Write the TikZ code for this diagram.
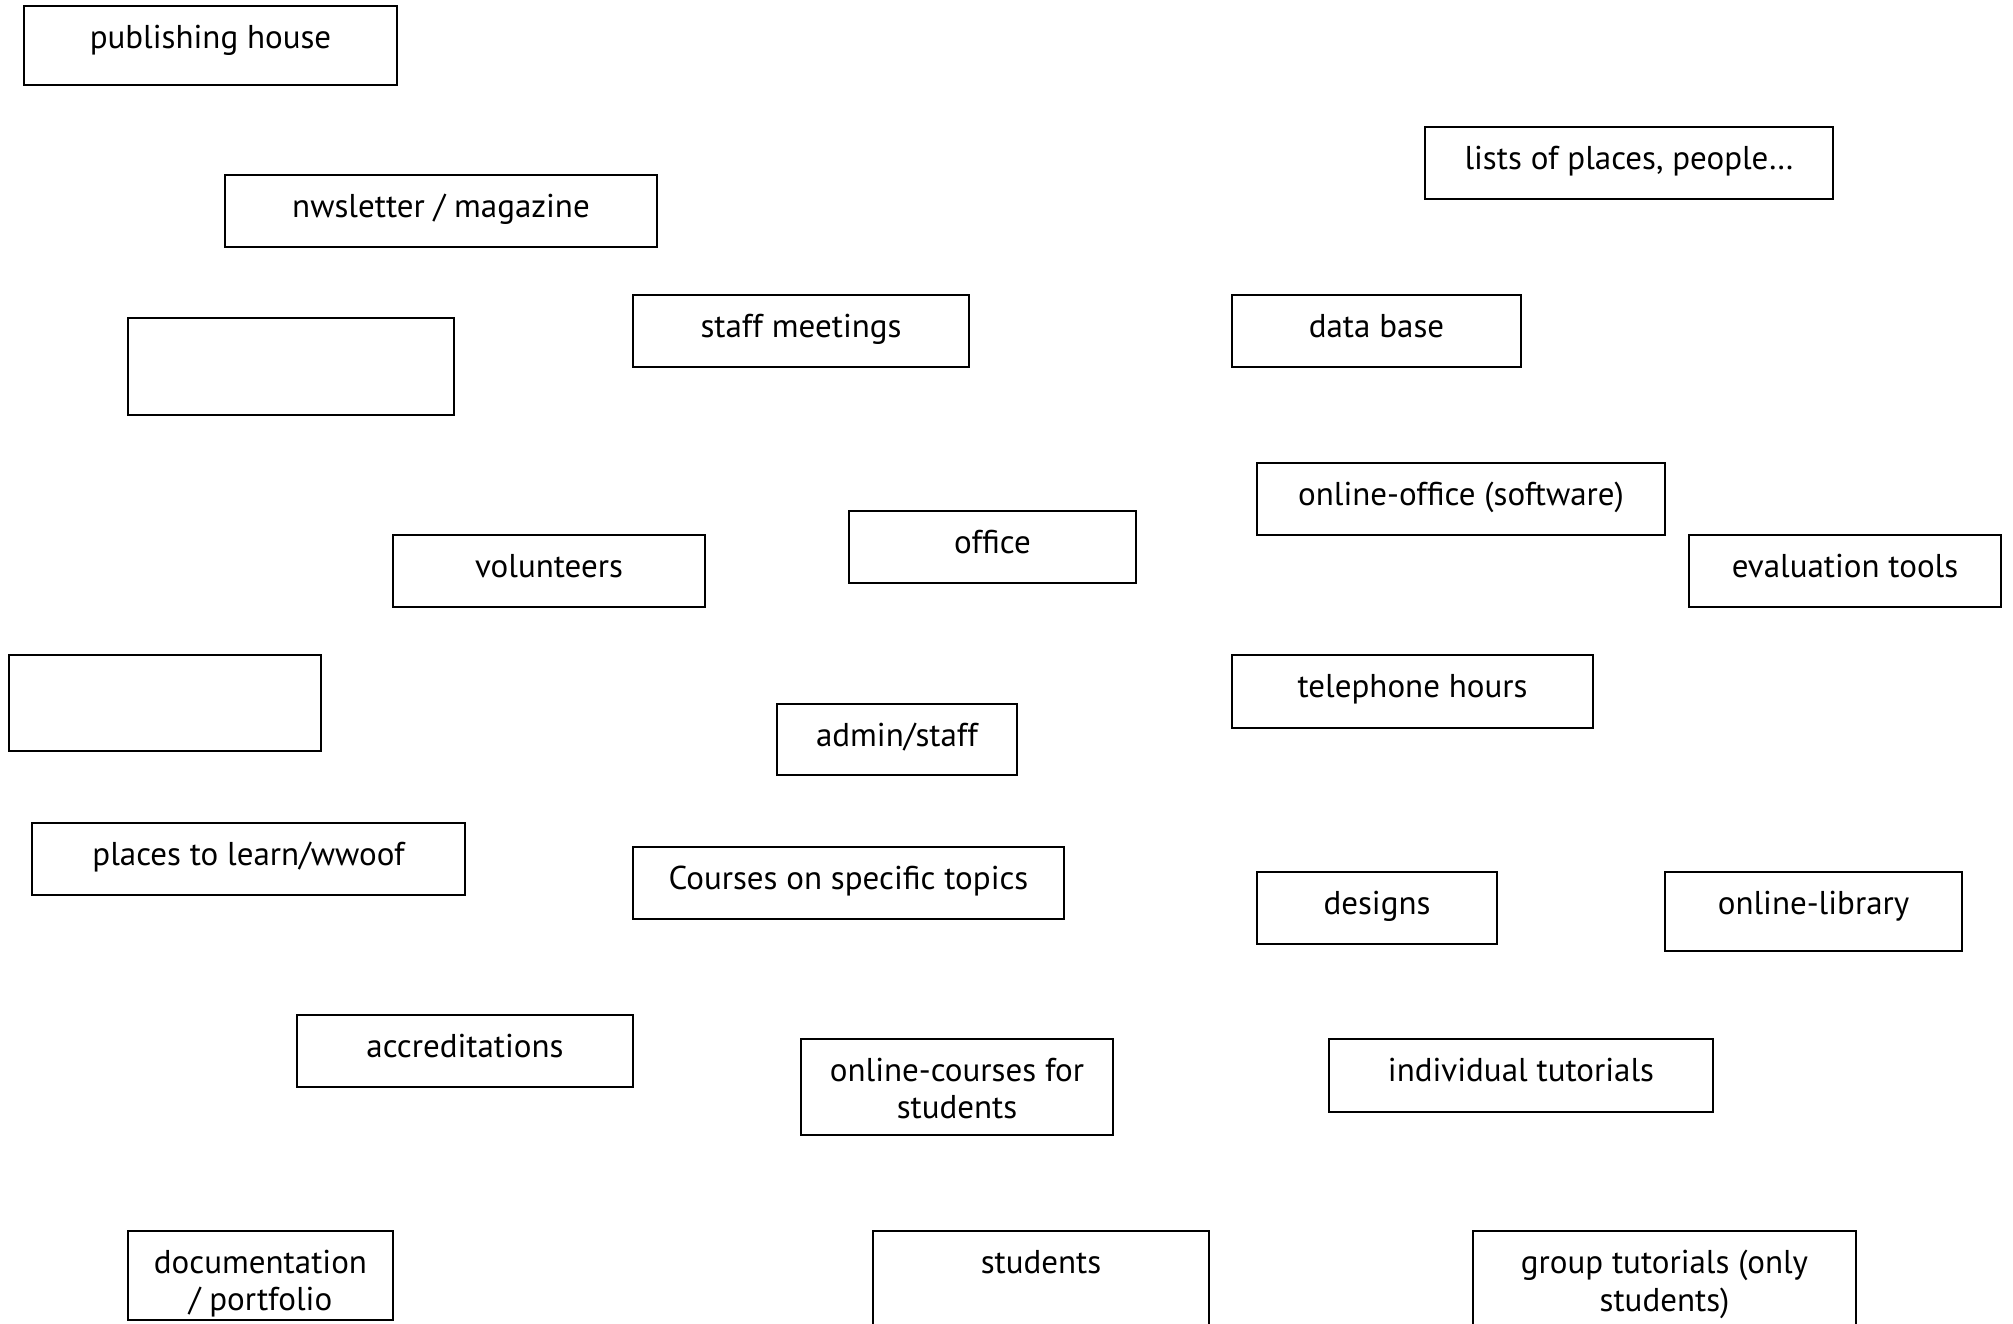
\documentclass[tikz,border=0pt]{standalone}
\usepackage{fontspec}
\setmainfont{PT Sans}
\usetikzlibrary{fit}
\tikzset{
  card/.style ={draw=black,line width=1pt,rectangle,inner sep=0pt},
  lbl/.style  ={anchor=north,inner sep=0pt,yshift=-10pt,align=center,
                font=\fontsize{16.5pt}{18.6pt}\selectfont},
}

\begin{document}
\begin{tikzpicture}[x=0.5pt,y=-0.5pt]
 \path[use as bounding box,fill=white] (0,0) rectangle (2013,1323);
 % top row
 \node[card,fit={(24,6) (397,85)},label={[lbl]north:publishing house}] (pubhouse) {};
 \node[card,fit={(225,175) (657,247)},label={[lbl]north:nwsletter / magazine}] (newsletter) {};
 \node[card,fit={(1425,127) (1833,199)},label={[lbl]north:lists of places, people\dots}] (lists) {};
 \node[card,fit={(128,318) (454,415)}] (blankA) {};
 \node[card,fit={(633,295) (969,367)},label={[lbl]north:staff meetings}] (meetings) {};
 \node[card,fit={(1232,295) (1521,367)},label={[lbl]north:data base}] (database) {};
 % middle
 \node[card,fit={(1257,463) (1665,535)},label={[lbl]north:online-office (software)}] (onloffice) {};
 \node[card,fit={(1689,535) (2001,607)},label={[lbl]north:evaluation tools}] (evaltools) {};
 \node[card,fit={(849,511) (1136,583)},label={[lbl]north:office}] (office) {};
 \node[card,fit={(393,535) (705,607)},label={[lbl]north:volunteers}] (volunteers) {};
 \node[card,fit={(9,655) (321,751)}] (blankB) {};
 \node[card,fit={(1232,655) (1593,728)},label={[lbl]north:telephone hours}] (phone) {};
 \node[card,fit={(777,704) (1017,775)},label={[lbl]north:admin/staff}] (admin) {};
 \node[card,fit={(32,823) (465,895)},label={[lbl]north:places to learn/wwoof}] (places) {};
 \node[card,fit={(633,847) (1064,919)},label={[lbl]north:Courses on specific topics}] (courses) {};
 \node[card,fit={(1257,872) (1497,944)},label={[lbl]north:designs}] (designs) {};
 \node[card,fit={(1665,872) (1962,951)},label={[lbl]north:online-library}] (library) {};
 % lower rows
 \node[card,fit={(297,1015) (633,1087)},label={[lbl]north:accreditations}] (accred) {};
 \node[card,fit={(801,1039) (1113,1135)},label={[lbl]north:online-courses for\\students}] (onlcourses) {};
 \node[card,fit={(1329,1039) (1713,1112)},label={[lbl]north:individual tutorials}] (tutorials) {};
 \node[card,fit={(128,1231) (393,1320)},label={[lbl]north:documentation\\/ portfolio}] (docu) {};
 \node[card,fit={(873,1231) (1209,1380)},label={[lbl]north:students}] (students) {};
 \node[card,fit={(1473,1231) (1856,1380)},label={[lbl]north:group tutorials (only\\students)}] (grouptut) {};
\end{tikzpicture}
\end{document}
